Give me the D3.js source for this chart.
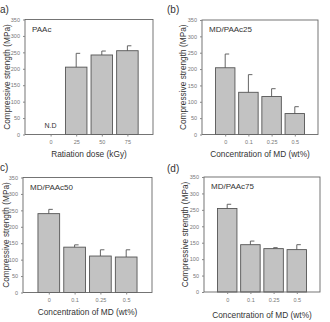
<!DOCTYPE html>
<html><head><meta charset="utf-8">
<script src="https://cdn.jsdelivr.net/npm/d3@7"></script>
<style>body{margin:0;background:#fff}svg{display:block}</style>
</head><body>
<script>
const yTicks = [0,50,100,150,200,250,300,350];
const catsA = ["0","25","50","75"];
const valsA = [null,205,242,255];
const errA  = [null,42,12,15];
const catsMD = ["0","0.1","0.25","0.5"];
const valsB = [204,129,116,64];
const errB  = [42,54,24,21];
const valsC = [240,138,111,108];
const errC  = [13,7,19,22];
const valsD = [254,144,132,129];
const errD  = [13,11,3,15];
const titles = ["PAAc","MD/PAAc25","MD/PAAc50","MD/PAAc75"];
const tags = ["a)","(b)","c)","(d)"];
const xTitles = ["Ratiation dose (kGy)","Concentration of MD (wt%)","Concentration of MD (wt%)","Concentration of MD (wt%)"];
const yTitle = "Compressive strength (MPa)";

const W=330,H=322;
const svg=d3.select("body").append("svg").attr("width",W).attr("height",H);
const font="Liberation Sans, Arial, sans-serif";

const panels=[
 {cats:catsA,vals:valsA,err:errA,x0:25,x1:153,y0:19.5,y1:134.5,tx:0,ty:13,ytx:10,xty:157,nd:true},
 {cats:catsMD,vals:valsB,err:errB,x0:202,x1:318,y0:20,y1:134.5,tx:167,ty:13,ytx:186,xty:157},
 {cats:catsMD,vals:valsC,err:errC,x0:23,x1:152,y0:177.5,y1:292.5,tx:0,ty:171,ytx:9,xty:315},
 {cats:catsMD,vals:valsD,err:errD,x0:204,x1:320,y0:177,y1:292,tx:167,ty:172,ytx:188,xty:318}
];

panels.forEach((p,i)=>{
  const g=svg.append("g");
  const x=d3.scalePoint().domain(p.cats).range([p.x0,p.x1]).padding(1);
  const y=d3.scaleLinear().domain([0,350]).range([p.y1,p.y0]);
  const bw=x.step()*0.84;
  // bars
  p.cats.forEach((c,j)=>{
    const v=p.vals[j]; if(v==null) return;
    const cx=x(c);
    g.append("rect").attr("x",cx-bw/2).attr("y",y(v)).attr("width",bw).attr("height",y(0)-y(v))
     .attr("fill","#c2c2c2").attr("stroke","#555").attr("stroke-width",0.9);
    const e=p.err[j];
    g.append("line").attr("x1",cx).attr("x2",cx).attr("y1",y(v)).attr("y2",y(v+e)).attr("stroke","#555").attr("stroke-width",0.9);
    g.append("line").attr("x1",cx).attr("x2",cx+4).attr("y1",y(v+e)).attr("y2",y(v+e)).attr("stroke","#555").attr("stroke-width",0.9);
  });
  // frame
  g.append("rect").attr("x",p.x0).attr("y",p.y0).attr("width",p.x1-p.x0).attr("height",p.y1-p.y0)
   .attr("fill","none").attr("stroke","#666").attr("stroke-width",0.9);
  // y axis
  const ya=g.append("g").attr("transform",`translate(${p.x0},0)`).call(d3.axisLeft(y).tickValues(yTicks).tickSize(2).tickPadding(3));
  ya.select(".domain").remove();
  ya.selectAll("line").attr("stroke","#888");
  ya.selectAll("text").attr("font-family",font).attr("font-size",5.5).attr("fill","#777");
  // x axis
  const xa=g.append("g").attr("transform",`translate(0,${p.y1})`).call(d3.axisBottom(x).tickSize(2).tickPadding(4));
  xa.select(".domain").remove();
  xa.selectAll("line").attr("stroke","#888");
  xa.selectAll("text").attr("font-family",font).attr("font-size",5.5).attr("fill","#777");
  // titles
  g.append("text").attr("x",p.x0+7).attr("y",p.y0+12).attr("font-family",font).attr("font-size",8).attr("fill","#333").text(titles[i]);
  g.append("text").attr("x",p.tx).attr("y",p.ty).attr("font-family",font).attr("font-size",10).attr("fill","#333").text(tags[i]);
  g.append("text").attr("transform",`translate(${p.ytx},${(p.y0+p.y1)/2}) rotate(-90)`).attr("text-anchor","middle")
   .attr("font-family",font).attr("font-size",8.3).attr("fill","#333").text(yTitle);
  g.append("text").attr("x",(p.x0+p.x1)/2).attr("y",p.xty).attr("text-anchor","middle")
   .attr("font-family",font).attr("font-size",8.3).attr("fill","#333").text(xTitles[i]);
  if(p.nd){
    g.append("text").attr("x",x("0")).attr("y",y(0)-7).attr("text-anchor","middle")
     .attr("font-family",font).attr("font-size",7).attr("fill","#333").text("N.D");
  }
});
</script>
</body></html>
